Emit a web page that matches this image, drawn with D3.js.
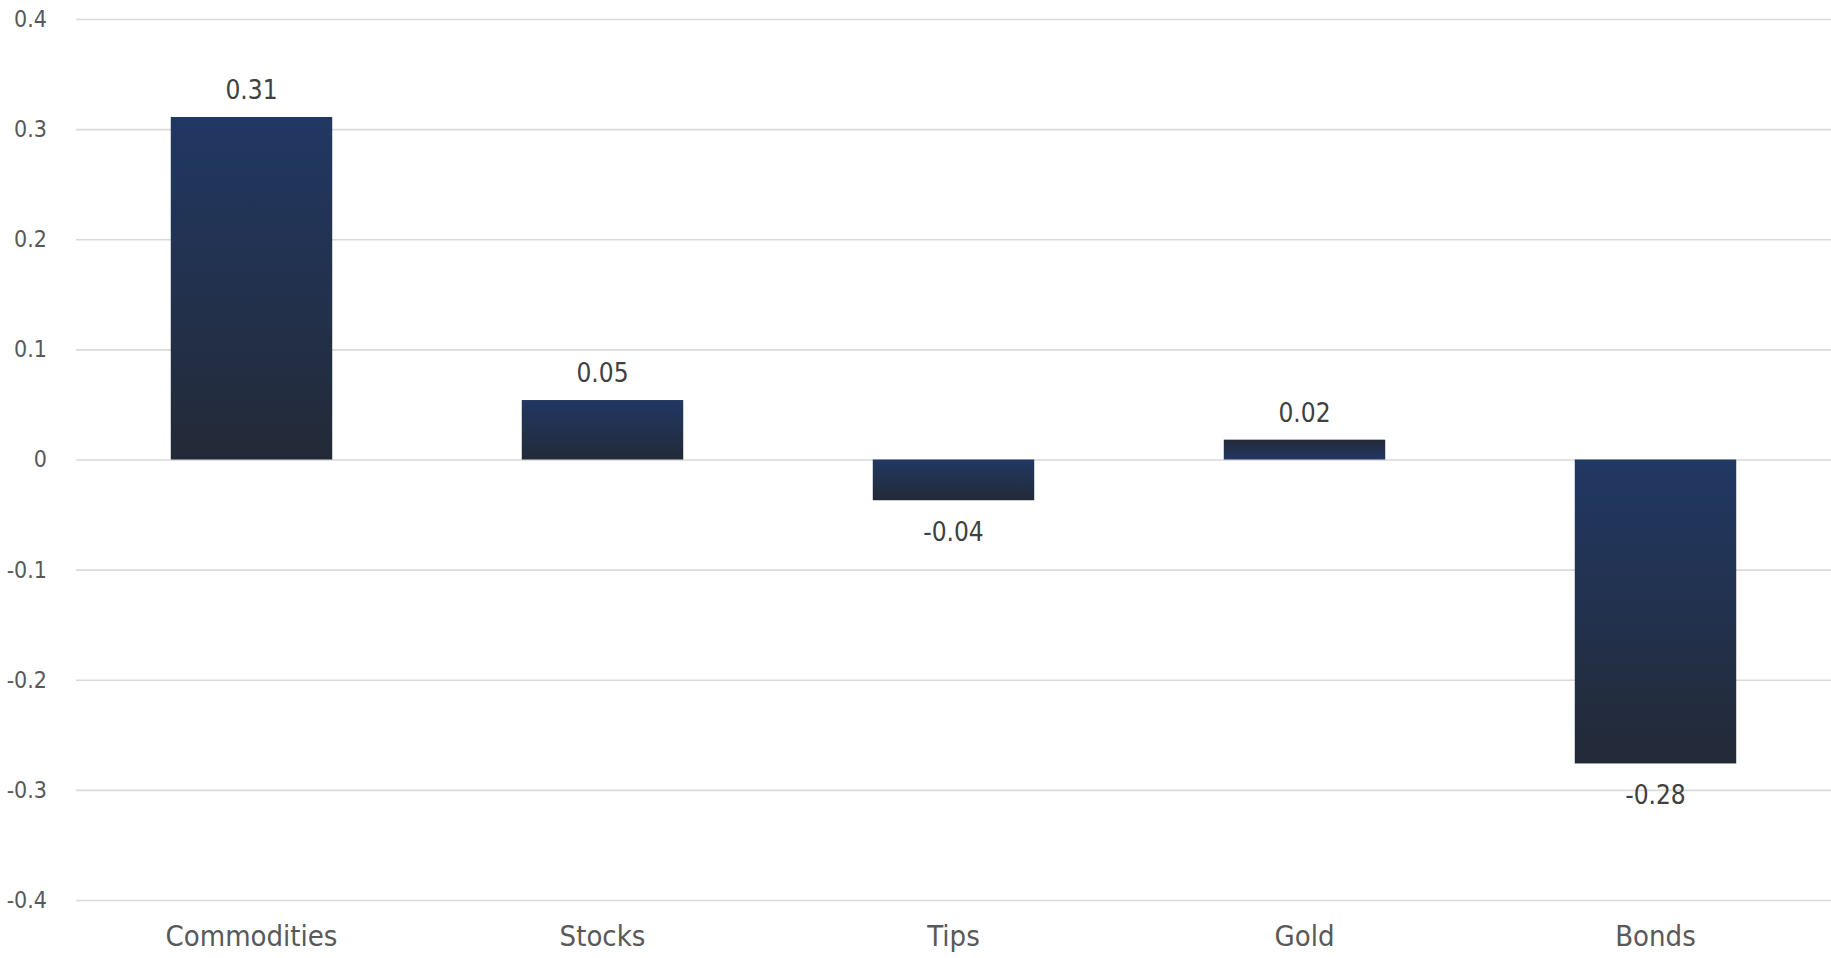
<!DOCTYPE html>
<html>
<head>
<meta charset="utf-8">
<script src="https://cdn.jsdelivr.net/npm/d3@7"></script>
<style>
  html, body { margin: 0; padding: 0; background: #fff; }
  #chart { width: 1831px; height: 958px; }
  text { font-family: "DejaVu Sans Condensed", "Liberation Sans Narrow", "DejaVu Sans", sans-serif; font-stretch: condensed; }
</style>
</head>
<body>
<div id="chart"></div>
<script>
// data
const categories = ["Commodities", "Stocks", "Tips", "Gold", "Bonds"];
const values = [0.311, 0.054, -0.037, 0.018, -0.276];
const yTicks = [-0.4, -0.3, -0.2, -0.1, 0, 0.1, 0.2, 0.3, 0.4];

const width = 1831;
const height = 958;
const margin = { top: 19, right: 0, bottom: 58, left: 76 };

const data = categories.map((name, i) => ({ name, value: values[i] }));

// plain hyphen instead of d3's unicode minus
const fmt = (f) => (d) => d3.format(f)(d).replace("\u2212", "-");

const svg = d3
  .select("#chart")
  .append("svg")
  .attr("width", width)
  .attr("height", height);

// gradients: blue at the top, dark at the bottom (gold is the other way round)
const defs = svg.append("defs");
const down = defs.append("linearGradient")
  .attr("id", "grad-down").attr("x1", 0).attr("y1", 0).attr("x2", 0).attr("y2", 1);
down.append("stop").attr("offset", "0%").attr("stop-color", "#213863");
down.append("stop").attr("offset", "100%").attr("stop-color", "#232a37");
const up = defs.append("linearGradient")
  .attr("id", "grad-up").attr("x1", 0).attr("y1", 0).attr("x2", 0).attr("y2", 1);
up.append("stop").attr("offset", "0%").attr("stop-color", "#232a37");
up.append("stop").attr("offset", "100%").attr("stop-color", "#213863");

// scales
const x = d3
  .scaleBand()
  .domain(categories)
  .range([margin.left, width - margin.right])
  .paddingInner(0.54)
  .paddingOuter(0.27);

const y = d3
  .scaleLinear()
  .domain([-0.4, 0.4])
  .range([height - margin.bottom, margin.top]);

// y axis with gridlines
svg
  .append("g")
  .attr("transform", `translate(${margin.left},0)`)
  .call(
    d3.axisLeft(y)
      .tickValues(yTicks)
      .tickFormat((d) => (d === 0 ? "0" : fmt(".1f")(d)))
      .tickSize(-(width - margin.left - margin.right))
      .tickPadding(29)
  )
  .call((g) => g.select(".domain").remove())
  .call((g) => g.selectAll(".tick line").attr("stroke", "#d9d9d9").attr("stroke-width", 1.6))
  .call((g) =>
    g.selectAll(".tick text")
      .attr("fill", "#595959")
      .style("font-size", "23px")
  );

// x axis labels (no line)
svg
  .append("g")
  .attr("transform", `translate(0,${height - margin.bottom})`)
  .call(d3.axisBottom(x).tickSize(0).tickPadding(0))
  .call((g) => g.select(".domain").remove())
  .call((g) =>
    g.selectAll(".tick text")
      .attr("fill", "#595959")
      .attr("dy", "1.6em")
      .style("font-size", "29px")
  );

// bars
svg
  .append("g")
  .selectAll("rect")
  .data(data)
  .join("rect")
  .attr("x", (d) => x(d.name))
  .attr("width", x.bandwidth())
  .attr("y", (d) => y(Math.max(0, d.value)))
  .attr("height", (d) => Math.abs(y(d.value) - y(0)))
  .attr("fill", (d) => (d.name === "Gold" ? "url(#grad-up)" : "url(#grad-down)"));

// value labels
svg
  .append("g")
  .selectAll("text")
  .data(data)
  .join("text")
  .attr("x", (d) => x(d.name) + x.bandwidth() / 2)
  .attr("y", (d) => (d.value >= 0 ? y(d.value) - 18 : y(d.value) + 41))
  .attr("text-anchor", "middle")
  .attr("fill", "#404040")
  .style("font-size", "26px")
  .text((d) => fmt(".2f")(d.value));
</script>
</body>
</html>
